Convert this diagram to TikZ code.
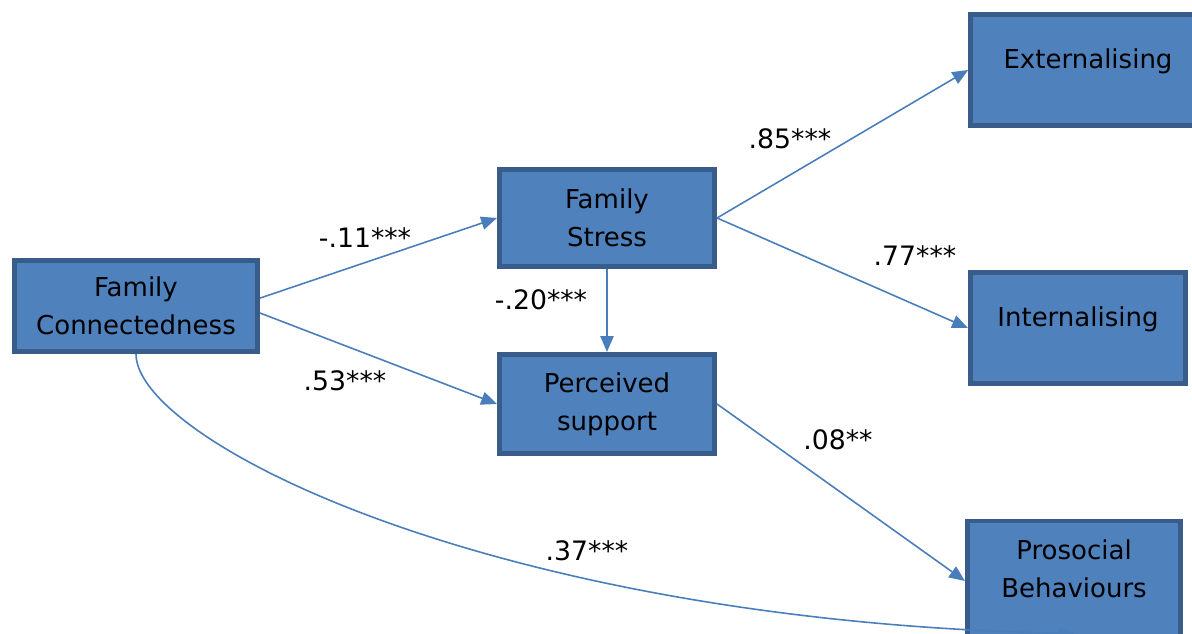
\documentclass[tikz,border=0pt]{standalone}
\usepackage{fontspec}
\setmainfont{DejaVu Sans}
\usetikzlibrary{arrows.meta}

\definecolor{boxfill}{HTML}{4F81BD}
\definecolor{boxline}{HTML}{385D8A}
\definecolor{pathline}{HTML}{4A7EBB}

\tikzset{
  var/.style={draw=boxline,fill=boxfill,line width=2.6pt,align=center,
    font=\fontsize{14.8}{21.6}\selectfont,inner sep=0pt},
  effect/.style={draw=pathline,line width=0.9pt,
    -{Triangle[length=9pt,width=7.5pt]}},
  coef/.style={font=\fontsize{15.2}{18}\selectfont}
}

\begin{document}
\begin{tikzpicture}
\useasboundingbox (0,0) rectangle (23.84,12.66);

% Model variables, predictor on the left and outcomes on the right.
\node[var,minimum width=4.87cm,minimum height=1.83cm] (conn) at (2.72,6.54)
  {Family\\Connectedness};
\node[var,minimum width=4.31cm,minimum height=1.95cm] (stress) at (12.14,8.30)
  {Family\\Stress};
\node[var,minimum width=4.31cm,minimum height=1.99cm] (support) at (12.14,4.58)
  {Perceived\\support};
\node[var,minimum width=4.70cm,minimum height=2.23cm,text depth=12.5pt] (ext)
  at (21.76,11.26) {Externalising};
\node[var,minimum width=4.31cm,minimum height=2.23cm,text depth=12.5pt] (int)
  at (21.56,6.10) {Internalising};
\node[var,minimum width=4.27cm,minimum height=2.40cm,text depth=14.6pt] (pro)
  at (21.48,1.04) {Prosocial\\Behaviours};

% Paths with their standardised coefficients.
\draw[effect] ([yshift=4.5pt]conn.east) -- (stress.west);
\draw[effect] ([yshift=-4pt]conn.east) -- (support.west);
\draw[effect] (stress.south) -- (support.north);
\draw[effect] (stress.east) -- (ext.west);
\draw[effect] (stress.east) -- (int.west);
\draw[effect] (support.east) -- (pro.west);
\draw[effect] (conn.south) .. controls +(0,-1.72) and +(-11.7,0.26)
  .. ([yshift=5.5pt]pro.south);

\node[coef] (c1) at (7.30,7.90) {-.11***};
\node[coef] (c2) at (6.90,5.04) {.53***};
\node[coef] (c3) at (10.82,6.66) {-.20***};
\node[coef] (c4) at (15.80,9.88) {.85***};
\node[coef] (c5) at (18.30,7.54) {.77***};
\node[coef] (c6) at (16.76,3.86) {.08**};
\node[coef] (c7) at (11.74,1.64) {.37***};
\end{tikzpicture}
\end{document}
